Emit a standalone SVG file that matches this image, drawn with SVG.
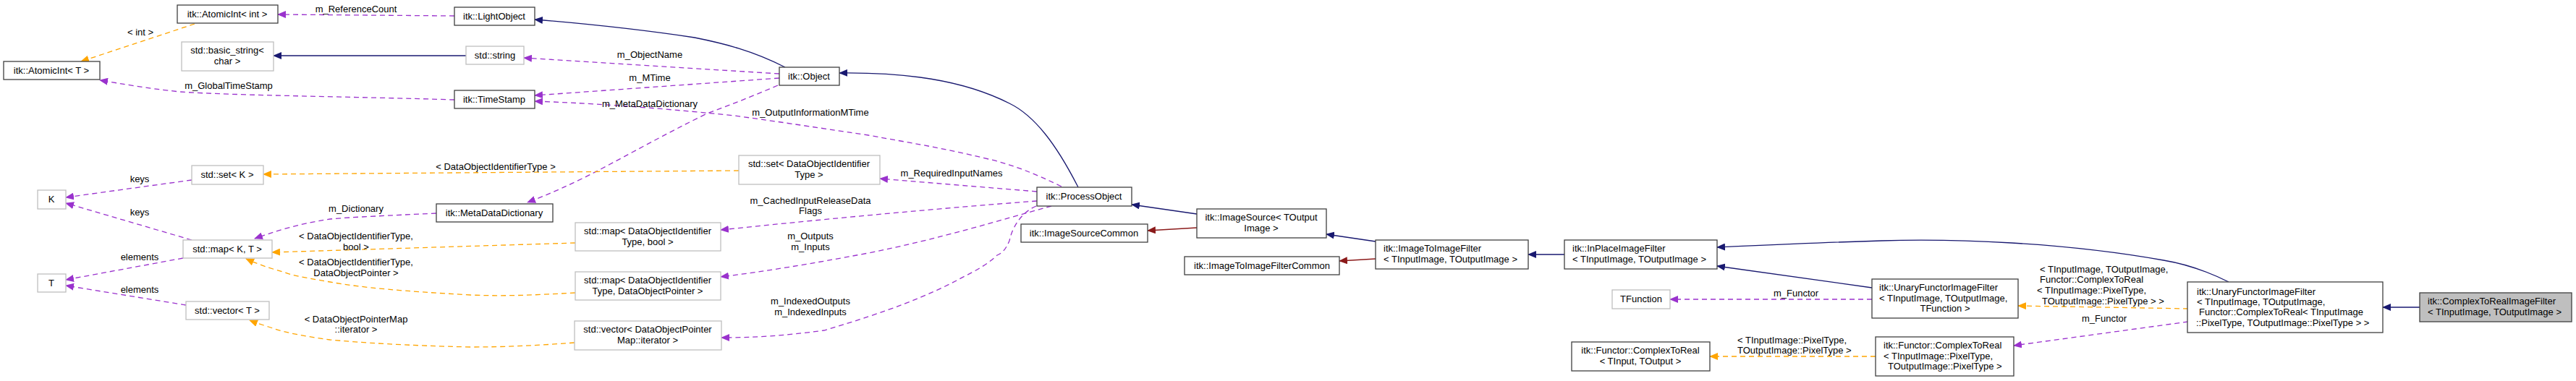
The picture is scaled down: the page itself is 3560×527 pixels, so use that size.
<svg xmlns="http://www.w3.org/2000/svg" width="3560" height="527" viewBox="0 0 3560 527">
<style>
text{font-family:"Liberation Sans",Arial,sans-serif;font-size:13px;fill:#000}
.c{text-anchor:middle}
.n rect{fill:#fff;stroke:#404040;stroke-width:1.3}
.g rect{fill:#fff;stroke:#bfbfbf;stroke-width:1.3}
.e path{fill:none;stroke-width:1.3}
.nv{stroke:#191970}
.rd{stroke:#8b1a1a}
.pu{stroke:#9a32cd;stroke-dasharray:7,5}
.or{stroke:#ffa500;stroke-dasharray:7,5}
</style>
<defs>
<marker id="aN" markerUnits="userSpaceOnUse" markerWidth="12" markerHeight="10" refX="11" refY="5" orient="auto"><path d="M0,0L12,5L0,10z" fill="#191970"/></marker>
<marker id="aR" markerUnits="userSpaceOnUse" markerWidth="12" markerHeight="10" refX="11" refY="5" orient="auto"><path d="M0,0L12,5L0,10z" fill="#8b1a1a"/></marker>
<marker id="aP" markerUnits="userSpaceOnUse" markerWidth="12" markerHeight="10" refX="11" refY="5" orient="auto"><path d="M0,0L12,5L0,10z" fill="#9a32cd"/></marker>
<marker id="aO" markerUnits="userSpaceOnUse" markerWidth="12" markerHeight="10" refX="11" refY="5" orient="auto"><path d="M0,0L12,5L0,10z" fill="#ffa500"/></marker>
</defs>
<rect width="3560" height="527" fill="#fff"/>
<g id="connectors" class="e">
<path class="pu" d="M628,22L384,20" marker-end="url(#aP)"/>
<path class="or" d="M269,33L112,85" marker-end="url(#aO)"/>
<path class="nv" d="M644,77L378,77" marker-end="url(#aN)"/>
<path class="pu" d="M628,138C500,134 320,132 249,127C200,122 170,116 138,111" marker-end="url(#aP)"/>
<path class="nv" d="M1085,93C1040,70 1000,60 960,52C880,40 800,32 739,27" marker-end="url(#aN)"/>
<path class="pu" d="M1077,102L724,80" marker-end="url(#aP)"/>
<path class="pu" d="M1077,108L739,132" marker-end="url(#aP)"/>
<path class="pu" d="M1075,118C1040,133 1010,145 977,157C920,185 870,213 832,233C790,255 760,268 729,280" marker-end="url(#aP)"/>
<path class="nv" d="M1490,259C1460,200 1430,160 1395,143C1330,110 1250,100 1160,101" marker-end="url(#aN)"/>
<path class="pu" d="M1467,258C1430,240 1400,228 1366,220C1300,204 1260,198 1200,187C1120,175 1060,166 1015,160C900,148 800,142 739,140" marker-end="url(#aP)"/>
<path class="pu" d="M1433,265L1216,247" marker-end="url(#aP)"/>
<path class="pu" d="M1433,278C1300,288 1150,302 996,318" marker-end="url(#aP)"/>
<path class="pu" d="M1453,285C1380,305 1300,330 1200,350C1120,365 1060,375 996,383" marker-end="url(#aP)"/>
<path class="pu" d="M1432,285C1415,292 1400,310 1395,333C1390,345 1385,350 1378,353C1360,370 1340,378 1324,387C1280,410 1230,430 1139,457C1080,465 1040,467 997,467" marker-end="url(#aP)"/>
<path class="pu" d="M603,295C540,298 490,300 456,303C410,310 380,320 352,330" marker-end="url(#aP)"/>
<path class="or" d="M1021,236L364,241" marker-end="url(#aO)"/>
<path class="or" d="M795,336L376,349" marker-end="url(#aO)"/>
<path class="or" d="M795,405C740,408 700,410 650,408C560,403 500,398 456,390C420,384 400,380 394,377C370,370 355,365 340,358" marker-end="url(#aO)"/>
<path class="or" d="M794,474C740,478 700,480 650,480C560,478 500,474 456,470C420,465 395,460 380,455C368,451 355,447 345,443" marker-end="url(#aO)"/>
<path class="pu" d="M265,249L91,273" marker-end="url(#aP)"/>
<path class="pu" d="M265,332L91,281" marker-end="url(#aP)"/>
<path class="pu" d="M253,357L91,387" marker-end="url(#aP)"/>
<path class="pu" d="M257,422L91,395" marker-end="url(#aP)"/>
<path class="nv" d="M1654,296L1564,283" marker-end="url(#aN)"/>
<path class="rd" d="M1654,315L1586,319" marker-end="url(#aR)"/>
<path class="nv" d="M1901,334L1833,324" marker-end="url(#aN)"/>
<path class="rd" d="M1901,358L1851,361" marker-end="url(#aR)"/>
<path class="nv" d="M2162,352L2112,352" marker-end="url(#aN)"/>
<path class="nv" d="M2587,398L2373,368" marker-end="url(#aN)"/>
<path class="nv" d="M3080,390C3050,375 3020,365 2990,360C2850,335 2700,330 2600,333C2500,336 2420,340 2373,342" marker-end="url(#aN)"/>
<path class="pu" d="M2587,414L2308,414" marker-end="url(#aP)"/>
<path class="or" d="M3024,427L2789,423" marker-end="url(#aO)"/>
<path class="pu" d="M3024,445L2783,478" marker-end="url(#aP)"/>
<path class="or" d="M2592,493L2363,493" marker-end="url(#aO)"/>
<path class="nv" d="M3344,425L3293,425" marker-end="url(#aN)"/>
</g>
<g id="edge-labels">
<text class="c" x="492" y="17">m_ReferenceCount</text>
<text class="c" x="194" y="49">&lt; int &gt;</text>
<text class="c" x="316" y="123">m_GlobalTimeStamp</text>
<text class="c" x="898" y="80">m_ObjectName</text>
<text class="c" x="898" y="112">m_MTime</text>
<text class="c" x="898" y="148">m_MetaDataDictionary</text>
<text class="c" x="1120" y="160">m_OutputInformationMTime</text>
<text class="c" x="1315" y="244">m_RequiredInputNames</text>
<text class="c" x="1120" y="282">m_CachedInputReleaseData</text>
<text class="c" x="1120" y="296">Flags</text>
<text class="c" x="1120" y="331">m_Outputs</text>
<text class="c" x="1120" y="346">m_Inputs</text>
<text class="c" x="1120" y="421">m_IndexedOutputs</text>
<text class="c" x="1120" y="436">m_IndexedInputs</text>
<text class="c" x="492" y="293">m_Dictionary</text>
<text class="c" x="685" y="235">&lt; DataObjectIdentifierType &gt;</text>
<text class="c" x="492" y="331">&lt; DataObjectIdentifierType,</text>
<text class="c" x="492" y="346">bool &gt;</text>
<text class="c" x="492" y="367">&lt; DataObjectIdentifierType,</text>
<text class="c" x="492" y="382">DataObjectPointer &gt;</text>
<text class="c" x="492" y="446">&lt; DataObjectPointerMap</text>
<text class="c" x="492" y="460">::iterator &gt;</text>
<text class="c" x="193" y="252">keys</text>
<text class="c" x="193" y="298">keys</text>
<text class="c" x="193" y="360">elements</text>
<text class="c" x="193" y="405">elements</text>
<text class="c" x="2482" y="410">m_Functor</text>
<text x="2819" y="377">&lt; TInputImage, TOutputImage,</text>
<text x="2819" y="391">Functor::ComplexToReal</text>
<text x="2815" y="406">&lt; TInputImage::PixelType,</text>
<text x="2822" y="421"> TOutputImage::PixelType &gt; &gt;</text>
<text class="c" x="2908" y="445">m_Functor</text>
<text x="2401" y="475">&lt; TInputImage::PixelType,</text>
<text x="2401" y="489">TOutputImage::PixelType &gt;</text>
</g>
<g id="n-atomicint-int" class="n"><rect x="245" y="7" width="139" height="25"/><text class="c" x="314" y="24">itk::AtomicInt&lt; int &gt;</text></g>
<g id="n-basic-string" class="g"><rect x="251" y="58" width="127" height="40"/><text class="c" x="314" y="74">std::basic_string&lt;</text><text class="c" x="314" y="89">char &gt;</text></g>
<g id="n-atomicint-t" class="n"><rect x="5" y="85" width="133" height="25"/><text class="c" x="71" y="102">itk::AtomicInt&lt; T &gt;</text></g>
<g id="n-set-k" class="g"><rect x="265" y="229" width="99" height="26"/><text class="c" x="314" y="246">std::set&lt; K &gt;</text></g>
<g id="n-k" class="g"><rect x="52" y="263" width="39" height="26"/><text class="c" x="71" y="280">K</text></g>
<g id="n-map-kt" class="g"><rect x="253" y="332" width="123" height="25"/><text class="c" x="314" y="349">std::map&lt; K, T &gt;</text></g>
<g id="n-t" class="g"><rect x="52" y="379" width="39" height="25"/><text class="c" x="71" y="396">T</text></g>
<g id="n-vector-t" class="g"><rect x="257" y="417" width="115" height="25"/><text class="c" x="314" y="434">std::vector&lt; T &gt;</text></g>
<g id="n-lightobject" class="n"><rect x="628" y="10" width="111" height="25"/><text class="c" x="683" y="27">itk::LightObject</text></g>
<g id="n-std-string" class="g"><rect x="644" y="64" width="80" height="25"/><text class="c" x="684" y="81">std::string</text></g>
<g id="n-timestamp" class="n"><rect x="628" y="125" width="111" height="25"/><text class="c" x="683" y="142">itk::TimeStamp</text></g>
<g id="n-object" class="n"><rect x="1077" y="93" width="83" height="25"/><text class="c" x="1118" y="110">itk::Object</text></g>
<g id="n-set-doit" class="g"><rect x="1021" y="215" width="195" height="40"/><text class="c" x="1118" y="231">std::set&lt; DataObjectIdentifier</text><text class="c" x="1118" y="246">Type &gt;</text></g>
<g id="n-metadatadictionary" class="n"><rect x="603" y="282" width="161" height="25"/><text class="c" x="683" y="299">itk::MetaDataDictionary</text></g>
<g id="n-map-bool" class="g"><rect x="795" y="308" width="201" height="39"/><text class="c" x="895" y="324">std::map&lt; DataObjectIdentifier</text><text class="c" x="895" y="339">Type, bool &gt;</text></g>
<g id="n-map-dop" class="g"><rect x="795" y="376" width="201" height="39"/><text class="c" x="895" y="392">std::map&lt; DataObjectIdentifier</text><text class="c" x="895" y="407">Type, DataObjectPointer &gt;</text></g>
<g id="n-vector-dop" class="g"><rect x="794" y="444" width="203" height="40"/><text class="c" x="895" y="460">std::vector&lt; DataObjectPointer</text><text class="c" x="895" y="475">Map::iterator &gt;</text></g>
<g id="n-processobject" class="n"><rect x="1433" y="259" width="131" height="26"/><text class="c" x="1498" y="276">itk::ProcessObject</text></g>
<g id="n-imagesourcecommon" class="n"><rect x="1411" y="310" width="175" height="25"/><text class="c" x="1498" y="327">itk::ImageSourceCommon</text></g>
<g id="n-imagesource" class="n"><rect x="1654" y="289" width="179" height="40"/><text class="c" x="1743" y="305">itk::ImageSource&lt; TOutput</text><text class="c" x="1743" y="320">Image &gt;</text></g>
<g id="n-imagetoimagefiltercommon" class="n"><rect x="1637" y="355" width="214" height="25"/><text class="c" x="1744" y="372">itk::ImageToImageFilterCommon</text></g>
<g id="n-imagetoimagefilter" class="n"><rect x="1901" y="332" width="211" height="40"/><text x="1912" y="348">itk::ImageToImageFilter</text><text x="1912" y="363">&lt; TInputImage, TOutputImage &gt;</text></g>
<g id="n-inplaceimagefilter" class="n"><rect x="2162" y="332" width="211" height="40"/><text x="2173" y="348">itk::InPlaceImageFilter</text><text x="2173" y="363">&lt; TInputImage, TOutputImage &gt;</text></g>
<g id="n-tfunction" class="g"><rect x="2228" y="401" width="80" height="26"/><text class="c" x="2268" y="418">TFunction</text></g>
<g id="n-functor-ctor-tinput" class="n"><rect x="2172" y="473" width="191" height="40"/><text class="c" x="2267" y="489">itk::Functor::ComplexToReal</text><text class="c" x="2267" y="504">&lt; TInput, TOutput &gt;</text></g>
<g id="n-unary-tfunction" class="n"><rect x="2587" y="386" width="202" height="54"/><text x="2597" y="402">itk::UnaryFunctorImageFilter</text><text x="2597" y="417">&lt; TInputImage, TOutputImage,</text><text class="c" x="2688" y="431">TFunction &gt;</text></g>
<g id="n-functor-ctor-pixel" class="n"><rect x="2592" y="466" width="191" height="54"/><text x="2603" y="482">itk::Functor::ComplexToReal</text><text x="2603" y="497">&lt; TInputImage::PixelType,</text><text x="2609" y="511">TOutputImage::PixelType &gt;</text></g>
<g id="n-unary-ctor" class="n"><rect x="3023" y="390" width="270" height="70"/><text x="3036" y="408">itk::UnaryFunctorImageFilter</text><text x="3036" y="422">&lt; TInputImage, TOutputImage,</text><text x="3039" y="436">Functor::ComplexToReal&lt; TInputImage</text><text x="3035" y="451">::PixelType, TOutputImage::PixelType &gt; &gt;</text></g>
<g id="n-complextorealimagefilter" class="n"><rect x="3344" y="405" width="210" height="40" style="fill:#bfbfbf"/><text x="3355" y="421">itk::ComplexToRealImageFilter</text><text x="3355" y="436">&lt; TInputImage, TOutputImage &gt;</text></g>
</svg>
